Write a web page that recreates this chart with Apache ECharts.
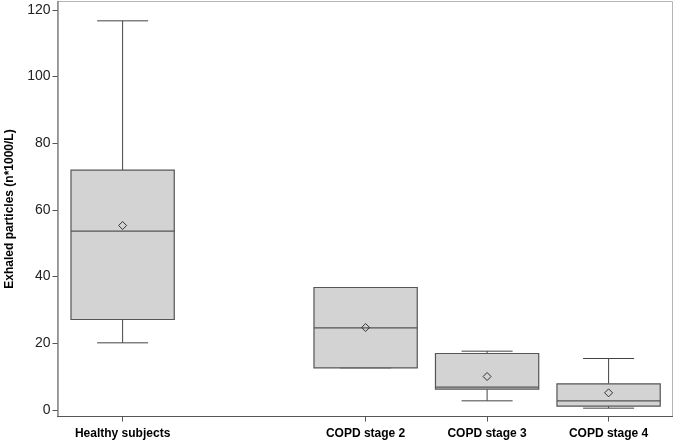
<!DOCTYPE html>
<html>
<head>
<meta charset="utf-8">
<script src="https://cdn.jsdelivr.net/npm/echarts@6/dist/echarts.min.js"></script>
<style>
html,body{margin:0;padding:0;background:#fff;}
#chart{width:677px;height:443px;}
</style>
</head>
<body>
<div id="chart"></div>
<script>
// Categories (the blank slot keeps the gap between the groups)
const categories = ['Healthy subjects', '', 'COPD stage 2', 'COPD stage 3', 'COPD stage 4'];
// Box statistics per category (null = no data)
const whiskerLow  = [20.1, null, 12.6, 2.7, 0.5];
const quartile1   = [27.1, null, 12.6, 6.2, 1.1];
const medians     = [53.6, null, 24.6, 6.8, 2.7];
const quartile3   = [71.9, null, 36.7, 16.9, 7.8];
const whiskerHigh = [116.7, null, 36.7, 17.6, 15.4];
const means       = [55.3, null, 24.7, 10.0, 5.1];
const yTicks = [0, 20, 40, 60, 80, 100, 120];

const xPositions = categories.map((c, i) => i + 1);
const xTickPositions = xPositions.filter((p, i) => categories[i] !== '');

const seriesData = [];
categories.forEach((c, i) => {
  if (medians[i] == null) return;
  seriesData.push([xPositions[i], whiskerLow[i], quartile1[i], medians[i], quartile3[i], whiskerHigh[i], means[i]]);
});

const FONT = '"Liberation Sans", Arial, Helvetica, sans-serif';

function renderItem(params, api) {
  const x = api.value(0);
  const unit = Math.abs(api.coord([x + 1, 0])[0] - api.coord([x, 0])[0]);
  const boxW = unit * 0.85;
  const capW = unit * 0.42;
  const pLow = api.coord([x, api.value(1)]);
  const pQ1 = api.coord([x, api.value(2)]);
  const pMed = api.coord([x, api.value(3)]);
  const pQ3 = api.coord([x, api.value(4)]);
  const pHigh = api.coord([x, api.value(5)]);
  const pMean = api.coord([x, api.value(6)]);
  const cx = pMed[0];
  const lineStyle = { stroke: '#444', lineWidth: 1, fill: null };
  const d = 4;
  return {
    type: 'group',
    children: [
      { type: 'line', shape: { x1: cx, y1: pHigh[1], x2: cx, y2: pQ3[1] }, style: lineStyle },
      { type: 'line', shape: { x1: cx, y1: pQ1[1], x2: cx, y2: pLow[1] }, style: lineStyle },
      { type: 'line', shape: { x1: cx - capW / 2, y1: pHigh[1], x2: cx + capW / 2, y2: pHigh[1] }, style: lineStyle },
      { type: 'line', shape: { x1: cx - capW / 2, y1: pLow[1], x2: cx + capW / 2, y2: pLow[1] }, style: lineStyle },
      { type: 'rect', shape: { x: cx - boxW / 2, y: pQ3[1], width: boxW, height: pQ1[1] - pQ3[1] },
        style: { fill: '#d3d3d3', stroke: '#555', lineWidth: 1.2 } },
      { type: 'line', shape: { x1: cx - boxW / 2, y1: pMed[1], x2: cx + boxW / 2, y2: pMed[1] },
        style: { stroke: '#555', lineWidth: 1.4 } },
      { type: 'polygon', shape: { points: [[cx, pMean[1] - d], [cx + d, pMean[1]], [cx, pMean[1] + d], [cx - d, pMean[1]]] },
        style: { fill: 'none', stroke: '#333', lineWidth: 1 } }
    ]
  };
}

const chart = echarts.init(document.getElementById('chart'), null, { renderer: 'canvas' });
chart.setOption({
  animation: false,
  backgroundColor: '#fff',
  grid: {
    left: 57.5, top: 1.5, right: 4.5, bottom: 26.5,
    show: true, borderColor: '#b5b5b5', borderWidth: 1,
    containLabel: false, outerBoundsMode: 'none'
  },
  xAxis: {
    type: 'value',
    min: 0.464, max: 5.526,
    axisLine: { show: true, onZero: false, lineStyle: { color: '#555', width: 1 } },
    axisTick: { show: true, length: 5, customValues: xTickPositions, lineStyle: { color: '#555' } },
    axisLabel: {
      customValues: xTickPositions,
      formatter: v => categories[Math.round(v) - 1] || '',
      margin: 11, color: '#000',
      fontFamily: FONT, fontSize: 12, fontWeight: 'bold'
    },
    splitLine: { show: false }
  },
  yAxis: {
    type: 'value',
    min: -2, max: 122.5,
    name: 'Exhaled particles (n*1000/L)',
    nameLocation: 'middle',
    nameGap: 42,
    nameTextStyle: { fontFamily: FONT, fontSize: 12, fontWeight: 'bold', color: '#000' },
    axisLine: { show: true, onZero: false, lineStyle: { color: '#888', width: 1.5 } },
    axisTick: { show: true, length: 5, customValues: yTicks, lineStyle: { color: '#555' } },
    axisLabel: { customValues: yTicks, margin: 7, color: '#222', fontFamily: FONT, fontSize: 14 },
    splitLine: { show: false }
  },
  series: [{
    type: 'custom',
    renderItem: renderItem,
    encode: { x: 0, y: [1, 2, 3, 4, 5, 6] },
    data: seriesData,
    clip: false
  }]
});
</script>
</body>
</html>
